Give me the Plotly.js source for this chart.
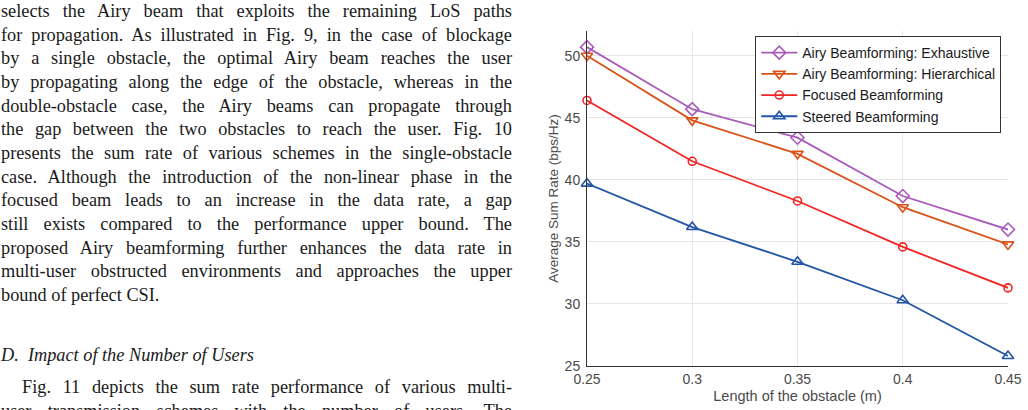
<!DOCTYPE html>
<html>
<head>
<meta charset="utf-8">
<script src="https://cdn.plot.ly/plotly-3.0.1.min.js"></script>
<style>
html,body{margin:0;padding:0;background:#fff;width:1028px;height:410px;overflow:hidden;position:relative;}
#text{position:absolute;left:1px;top:0px;width:511px;font-family:"Liberation Serif","Times New Roman",serif;font-size:18.3px;line-height:23.65px;color:#1a1a1a;}
.j{text-align:justify;text-align-last:justify;white-space:nowrap;}
.l{text-align:left;white-space:nowrap;}
.h{font-style:italic;}
#chart{position:absolute;left:530px;top:0;width:498px;height:410px;}
</style>
</head>
<body>
<div id="text">
<div class="j">selects the Airy beam that exploits the remaining LoS paths</div>
<div class="j">for propagation. As illustrated in Fig. 9, in the case of blockage</div>
<div class="j">by a single obstacle, the optimal Airy beam reaches the user</div>
<div class="j">by propagating along the edge of the obstacle, whereas in the</div>
<div class="j">double-obstacle case, the Airy beams can propagate through</div>
<div class="j">the gap between the two obstacles to reach the user. Fig. 10</div>
<div class="j">presents the sum rate of various schemes in the single-obstacle</div>
<div class="j">case. Although the introduction of the non-linear phase in the</div>
<div class="j">focused beam leads to an increase in the data rate, a gap</div>
<div class="j">still exists compared to the performance upper bound. The</div>
<div class="j">proposed Airy beamforming further enhances the data rate in</div>
<div class="j">multi-user obstructed environments and approaches the upper</div>
<div class="l">bound of perfect CSI.</div>
<div class="l h" style="margin-top:36px;">D.&nbsp; Impact of the Number of Users</div>
<div class="j" style="margin-top:9px;padding-left:21px;">Fig. 11 depicts the sum rate performance of various multi-</div>
<div class="j">user transmission schemes with the number of users. The</div>
</div>
<div id="chart"></div>
<script>
var obstacleLength = [0.25, 0.3, 0.35, 0.4, 0.45];
var airyExhaustive = [50.7, 45.7, 43.4, 38.7, 36.0];
var airyHierarchical = [50.0, 44.8, 42.1, 37.8, 34.8];
var focusedBF = [46.4, 41.5, 38.3, 34.6, 31.3];
var steeredBF = [39.7, 36.2, 33.4, 30.3, 25.8];
var seriesNames = ["Airy Beamforming: Exhaustive", "Airy Beamforming: Hierarchical", "Focused Beamforming", "Steered Beamforming"];
var xTicks = [0.25, 0.3, 0.35, 0.4, 0.45];
var xTickLabels = ["0.25", "0.3", "0.35", "0.4", "0.45"];
var yTicks = [25, 30, 35, 40, 45, 50];

function mk(y, name, color, symbol, size) {
  return {
    x: obstacleLength, y: y, name: name, type: 'scatter', mode: 'lines+markers',
    cliponaxis: false,
    line: {color: color, width: 1.8},
    marker: {symbol: symbol, size: size, color: color, line: {color: color, width: 1.6}}
  };
}
var data = [
  mk(airyExhaustive, seriesNames[0], '#A95BBA', 'diamond-open', 10),
  mk(airyHierarchical, seriesNames[1], '#D95319', 'triangle-down-open', 10),
  mk(focusedBF, seriesNames[2], '#F22424', 'circle-open', 8),
  mk(steeredBF, seriesNames[3], '#2255A5', 'triangle-up-open', 10)
];
var sans = 'Liberation Sans, Arial, sans-serif';
var axFont = {family: sans, size: 14, color: '#4a4a4a'};
var layout = {
  width: 498, height: 410,
  margin: {l: 57, r: 20, t: 31, b: 44},
  paper_bgcolor: '#ffffff', plot_bgcolor: '#ffffff',
  showlegend: true,
  legend: {
    x: 0.984, y: 0.985, xanchor: 'right', yanchor: 'top',
    bgcolor: '#ffffff', bordercolor: '#333333', borderwidth: 1,
    font: {family: sans, size: 14, color: '#1a1a1a'},
    tracegroupgap: 0, itemwidth: 36
  },
  xaxis: {
    range: [0.25, 0.45], tickvals: xTicks, ticktext: xTickLabels,
    showgrid: true, gridcolor: '#e6e6e6', gridwidth: 1,
    zeroline: false, showline: true, linecolor: '#333333', linewidth: 1,
    ticks: '', tickfont: axFont,
    title: {text: 'Length of the obstacle (m)', font: {family: sans, size: 14.5, color: '#4a4a4a'}, standoff: 5}
  },
  yaxis: {
    range: [25, 52], tickvals: yTicks,
    showgrid: true, gridcolor: '#e6e6e6', gridwidth: 1,
    zeroline: false, showline: true, linecolor: '#333333', linewidth: 1,
    ticks: '', tickfont: axFont, ticklabelstandoff: 3,
    title: {text: 'Average Sum Rate (bps/Hz)', font: {family: sans, size: 13.5, color: '#4a4a4a'}, standoff: 2}
  }
};
Plotly.newPlot('chart', data, layout, {displayModeBar: false, staticPlot: true});
</script>
</body>
</html>
